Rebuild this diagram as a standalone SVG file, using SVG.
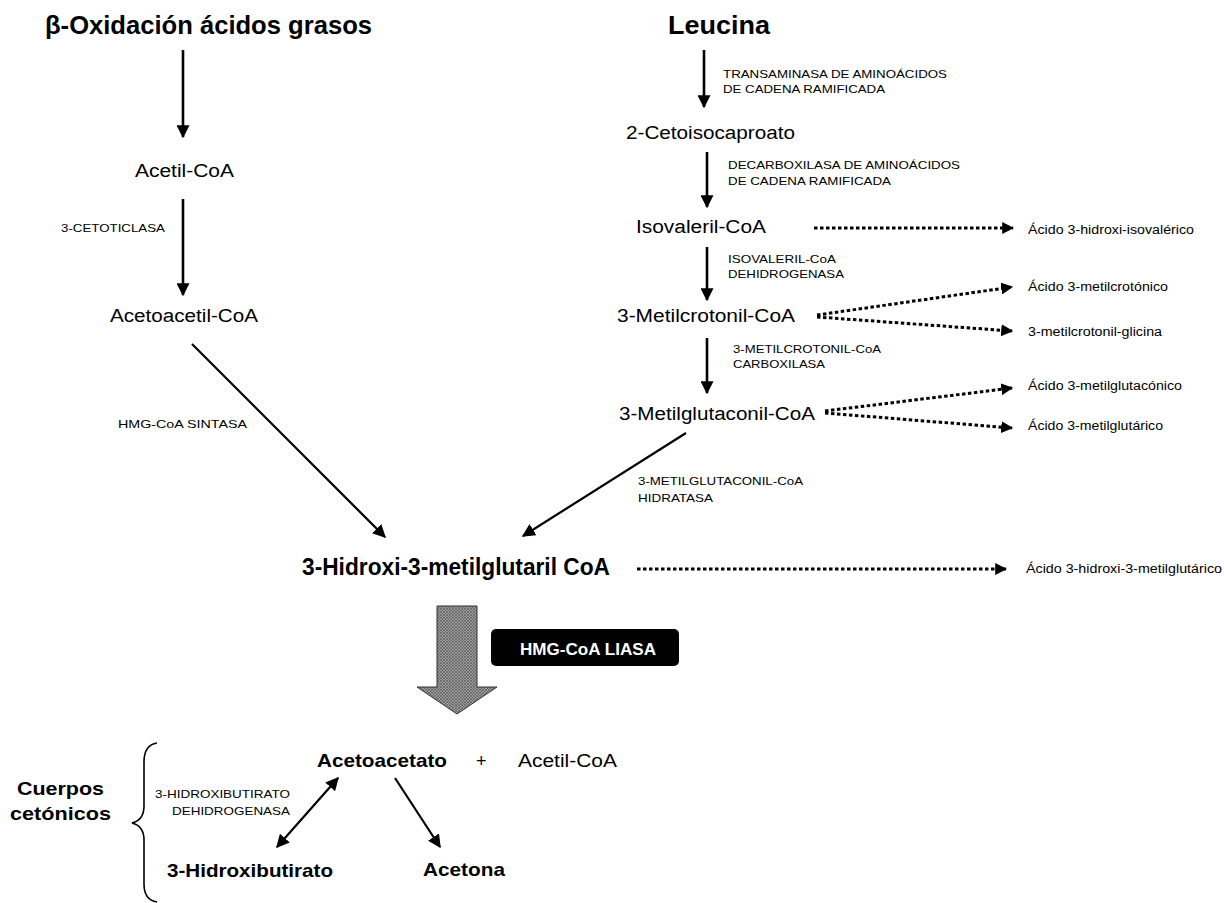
<svg xmlns="http://www.w3.org/2000/svg" width="1224" height="903" viewBox="0 0 1224 903">
<defs>
<style>
text{font-family:"Liberation Sans",Arial,sans-serif;fill:#000}
.title{font-size:25px;font-weight:bold}
.met{font-size:18px}
.metb{font-size:19px;font-weight:bold}
.enz{font-size:11.5px}
.prod{font-size:12.5px}
.solid{stroke:#000;stroke-width:2.6;fill:none}
.diag{stroke:#000;stroke-width:2.2;fill:none}
.dot{stroke:#000;stroke-width:3;stroke-dasharray:3.5 2.5;fill:none}
</style>
<marker id="ah" viewBox="0 0 10 10" refX="9" refY="5" markerWidth="5" markerHeight="5" markerUnits="strokeWidth" orient="auto">
<path d="M0,0 L10,5 L0,10 z" fill="#000"/>
</marker>
<marker id="ahs" viewBox="0 0 10 10" refX="9" refY="5" markerWidth="6" markerHeight="6" markerUnits="strokeWidth" orient="auto-start-reverse">
<path d="M0,0 L10,5 L0,10 z" fill="#000"/>
</marker>
<marker id="ahd" viewBox="0 0 10 10" refX="9" refY="5" markerWidth="4" markerHeight="4" markerUnits="strokeWidth" orient="auto">
<path d="M0,0 L10,5 L0,10 z" fill="#000"/>
</marker>
<pattern id="hatch" width="3" height="3" patternUnits="userSpaceOnUse">
<rect width="3" height="3" fill="#9a9a9a"/>
<path d="M0,0 L3,3 M3,0 L0,3" stroke="#555" stroke-width="0.6"/>
</pattern>
</defs>
<rect width="1224" height="903" fill="#fff"/>

<g id="connectors">
<line class="solid" x1="183" y1="50" x2="183" y2="137" marker-end="url(#ah)"/>
<line class="solid" x1="183" y1="199" x2="183" y2="295" marker-end="url(#ah)"/>
<line class="diag" x1="192" y1="344" x2="385" y2="537" marker-end="url(#ahs)"/>
<line class="solid" x1="704" y1="50" x2="704" y2="107" marker-end="url(#ah)"/>
<line class="solid" x1="707" y1="152" x2="707" y2="207" marker-end="url(#ah)"/>
<line class="solid" x1="707" y1="247" x2="707" y2="300" marker-end="url(#ah)"/>
<line class="solid" x1="707" y1="338" x2="707" y2="393" marker-end="url(#ah)"/>
<line class="diag" x1="686" y1="433" x2="523" y2="536" marker-end="url(#ahs)"/>
<line class="dot" x1="814" y1="228" x2="1013" y2="228" marker-end="url(#ahd)"/>
<line class="dot" x1="817" y1="315" x2="1012" y2="287" marker-end="url(#ahd)"/>
<line class="dot" x1="817" y1="317" x2="1012" y2="331" marker-end="url(#ahd)"/>
<line class="dot" x1="825" y1="411" x2="1012" y2="388" marker-end="url(#ahd)"/>
<line class="dot" x1="825" y1="413" x2="1012" y2="428" marker-end="url(#ahd)"/>
<line class="dot" x1="637" y1="569" x2="1006" y2="569" marker-end="url(#ahd)"/>
<line class="diag" x1="338" y1="778" x2="277" y2="847" marker-start="url(#ahs)" marker-end="url(#ahs)"/>
<line class="diag" x1="395" y1="778" x2="440" y2="847" marker-end="url(#ahs)"/>
</g>

<g id="n-beta"><text class="title" x="45" y="34" textLength="327" lengthAdjust="spacingAndGlyphs">β-Oxidación ácidos grasos</text></g>
<g id="n-acetilcoa"><text class="met" x="135" y="177" textLength="99" lengthAdjust="spacingAndGlyphs">Acetil-CoA</text></g>
<g id="e-cetotiolasa"><text class="enz" x="61" y="232" textLength="104" lengthAdjust="spacingAndGlyphs">3-CETOTICLASA</text></g>
<g id="n-acetoacetilcoa"><text class="met" x="110" y="322" textLength="148" lengthAdjust="spacingAndGlyphs">Acetoacetil-CoA</text></g>
<g id="e-hmgsintasa"><text class="enz" x="118" y="428" textLength="129" lengthAdjust="spacingAndGlyphs">HMG-CoA SINTASA</text></g>

<g id="n-leucina"><text class="title" x="668" y="34" textLength="102" lengthAdjust="spacingAndGlyphs">Leucina</text></g>
<g id="e-transaminasa"><text class="enz" x="723" y="78" textLength="224" lengthAdjust="spacingAndGlyphs">TRANSAMINASA DE AMINOÁCIDOS</text><text class="enz" x="723" y="93" textLength="162" lengthAdjust="spacingAndGlyphs">DE CADENA RAMIFICADA</text></g>
<g id="n-cetoisocaproato"><text class="met" x="626" y="139" textLength="169" lengthAdjust="spacingAndGlyphs">2-Cetoisocaproato</text></g>
<g id="e-decarboxilasa"><text class="enz" x="728" y="169" textLength="232" lengthAdjust="spacingAndGlyphs">DECARBOXILASA DE AMINOÁCIDOS</text><text class="enz" x="728" y="185" textLength="163" lengthAdjust="spacingAndGlyphs">DE CADENA RAMIFICADA</text></g>
<g id="n-isovalerilcoa"><text class="met" x="636" y="233" textLength="130" lengthAdjust="spacingAndGlyphs">Isovaleril-CoA</text></g>
<g id="p-hidroxiisovalerico"><text class="prod" x="1028" y="234" textLength="166" lengthAdjust="spacingAndGlyphs">Ácido 3-hidroxi-isovalérico</text></g>
<g id="e-isovaleril"><text class="enz" x="728" y="263" textLength="108" lengthAdjust="spacingAndGlyphs">ISOVALERIL-CoA</text><text class="enz" x="728" y="278" textLength="116" lengthAdjust="spacingAndGlyphs">DEHIDROGENASA</text></g>
<g id="n-metilcrotonilcoa"><text class="met" x="617" y="322" textLength="178" lengthAdjust="spacingAndGlyphs">3-Metilcrotonil-CoA</text></g>
<g id="p-metilcrotonico"><text class="prod" x="1028" y="291" textLength="140" lengthAdjust="spacingAndGlyphs">Ácido 3-metilcrotónico</text></g>
<g id="p-metilcrotonilglicina"><text class="prod" x="1028" y="336" textLength="134" lengthAdjust="spacingAndGlyphs">3-metilcrotonil-glicina</text></g>
<g id="e-carboxilasa"><text class="enz" x="733" y="353" textLength="148" lengthAdjust="spacingAndGlyphs">3-METILCROTONIL-CoA</text><text class="enz" x="733" y="368" textLength="92" lengthAdjust="spacingAndGlyphs">CARBOXILASA</text></g>
<g id="n-metilglutaconilcoa"><text class="met" x="619" y="420" textLength="196" lengthAdjust="spacingAndGlyphs">3-Metilglutaconil-CoA</text></g>
<g id="p-metilglutaconico"><text class="prod" x="1028" y="390" textLength="154" lengthAdjust="spacingAndGlyphs">Ácido 3-metilglutacónico</text></g>
<g id="p-metilglutarico"><text class="prod" x="1028" y="430" textLength="135" lengthAdjust="spacingAndGlyphs">Ácido 3-metilglutárico</text></g>
<g id="e-hidratasa"><text class="enz" x="638" y="485" textLength="165" lengthAdjust="spacingAndGlyphs">3-METILGLUTACONIL-CoA</text><text class="enz" x="638" y="502" textLength="75" lengthAdjust="spacingAndGlyphs">HIDRATASA</text></g>

<g id="n-hmgcoa"><text x="302" y="575" font-size="23" font-weight="bold" textLength="308" lengthAdjust="spacingAndGlyphs">3-Hidroxi-3-metilglutaril CoA</text></g>
<g id="p-hidroximetilglutarico"><text class="prod" x="1026" y="573" textLength="196" lengthAdjust="spacingAndGlyphs">Ácido 3-hidroxi-3-metilglutárico</text></g>

<g id="big-arrow"><path d="M437,606 L477,606 L477,687 L497,687 L457,714 L417,687 L437,687 z" fill="url(#hatch)" stroke="#333" stroke-width="1"/></g>
<g id="e-liasa"><rect x="491" y="629" width="188" height="37" rx="5" fill="#000"/><text x="520" y="655" font-size="16" font-weight="bold" textLength="136" lengthAdjust="spacingAndGlyphs" style="fill:#fff">HMG-CoA LIASA</text></g>

<g id="n-cuerpos"><text x="17" y="795" font-size="19" font-weight="bold" textLength="87" lengthAdjust="spacingAndGlyphs">Cuerpos</text><text x="10" y="820" font-size="19" font-weight="bold" textLength="101" lengthAdjust="spacingAndGlyphs">cetónicos</text></g>
<g id="brace"><path d="M157,743 Q144,745 144,762 L144,806 Q144,820 132,823 Q144,826 144,840 L144,884 Q144,900 157,902" fill="none" stroke="#000" stroke-width="1.6"/></g>
<g id="e-hidroxibutirato"><text x="155" y="798" font-size="11" textLength="135" lengthAdjust="spacingAndGlyphs">3-HIDROXIBUTIRATO</text><text x="172" y="815" font-size="11" textLength="118" lengthAdjust="spacingAndGlyphs">DEHIDROGENASA</text></g>
<g id="n-acetoacetato"><text class="metb" x="317" y="767" textLength="130" lengthAdjust="spacingAndGlyphs">Acetoacetato</text></g>
<g id="plus"><text class="met" x="476" y="767">+</text></g>
<g id="n-acetilcoa2"><text class="met" x="518" y="767" textLength="99" lengthAdjust="spacingAndGlyphs">Acetil-CoA</text></g>
<g id="n-hidroxibutirato"><text class="metb" x="167" y="877" textLength="166" lengthAdjust="spacingAndGlyphs">3-Hidroxibutirato</text></g>
<g id="n-acetona"><text class="metb" x="423" y="876" textLength="82" lengthAdjust="spacingAndGlyphs">Acetona</text></g>
</svg>
